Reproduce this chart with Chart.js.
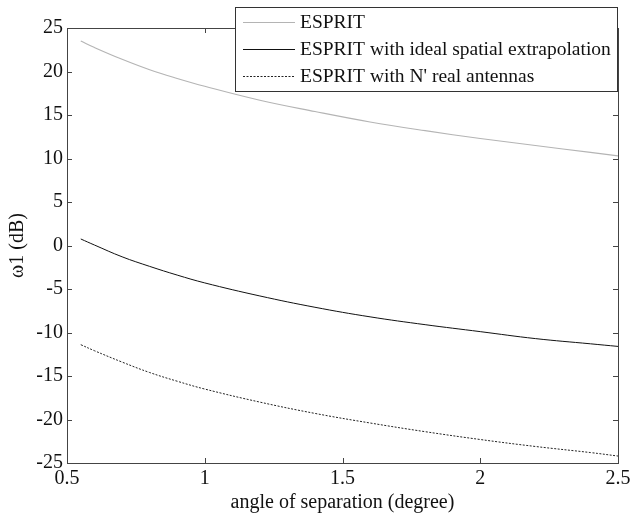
<!DOCTYPE html>
<html lang="en">
<head>
    <meta charset="UTF-8">
    <title>ESPRIT - angle of separation</title>
    <style>
        * { margin: 0; padding: 0; }
        body { background: #fff; }
        .container { position: relative; width: 640px; height: 517px; }
    </style>
</head>
<body>
    <div class="container">
        <canvas id="chart"></canvas>
    </div>
    <script src="https://cdn.jsdelivr.net/npm/chart.js@4/dist/chart.umd.min.js"></script>
    <script>
        // valores (angulo em graus, w1 em dB)
        var angles = [0.55, 0.6, 0.7, 0.8, 0.9, 1.0, 1.2, 1.4, 1.6, 1.8, 2.0, 2.2, 2.4, 2.5];
        var esprit = [23.5, 22.75, 21.4, 20.2, 19.2, 18.3, 16.7, 15.4, 14.2, 13.2, 12.3, 11.5, 10.7, 10.3];
        var espritIdeal = [0.75, 0.05, -1.3, -2.4, -3.4, -4.3, -5.8, -7.1, -8.2, -9.1, -9.9, -10.7, -11.3, -11.6];
        var espritReal = [-11.4, -12.1, -13.4, -14.6, -15.6, -16.5, -18.0, -19.3, -20.4, -21.4, -22.3, -23.1, -23.8, -24.2];

        var xTicks = [0.5, 1, 1.5, 2, 2.5];
        var yTicks = [-25, -20, -15, -10, -5, 0, 5, 10, 15, 20, 25];
        var labels = ['ESPRIT', 'ESPRIT with ideal spatial extrapolation', "ESPRIT with N' real antennas"];

        var serif = "'Liberation Serif', 'Times New Roman', serif";

        function pts(ys) {
            return angles.map(function (a, i) { return { x: a, y: ys[i] }; });
        }

        // caixa, ticks para dentro (estilo matlab) e legenda
        var boxPlugin = {
            id: 'boxPlugin',
            afterDraw: function (chart) {
                var ctx = chart.ctx;
                var a = chart.chartArea;
                var xs = chart.scales.x, ys = chart.scales.y;
                ctx.save();
                ctx.strokeStyle = '#444';
                ctx.lineWidth = 1;
                ctx.strokeRect(Math.round(a.left) + 0.5, Math.round(a.top) + 0.5,
                    Math.round(a.right - a.left), Math.round(a.bottom - a.top));
                ctx.beginPath();
                xTicks.forEach(function (v) {
                    var px = Math.round(xs.getPixelForValue(v)) + 0.5;
                    ctx.moveTo(px, a.bottom); ctx.lineTo(px, a.bottom - 5);
                    ctx.moveTo(px, a.top); ctx.lineTo(px, a.top + 5);
                });
                yTicks.forEach(function (v) {
                    var py = Math.round(ys.getPixelForValue(v)) + 0.5;
                    ctx.moveTo(a.left, py); ctx.lineTo(a.left + 5, py);
                    ctx.moveTo(a.right, py); ctx.lineTo(a.right - 5, py);
                });
                ctx.stroke();

                // legenda
                var lx = 235.5, ly = 7.5, lw = 382, lh = 84;
                ctx.fillStyle = '#fff';
                ctx.fillRect(lx, ly, lw, lh);
                ctx.strokeStyle = '#333';
                ctx.strokeRect(lx, ly, lw, lh);
                ctx.font = '19.5px ' + serif;
                ctx.textBaseline = 'middle';
                chart.data.datasets.forEach(function (ds, i) {
                    var y = 22 + i * 27;
                    ctx.beginPath();
                    ctx.strokeStyle = ds.borderColor;
                    ctx.lineWidth = ds.borderWidth;
                    ctx.setLineDash(ds.borderDash || []);
                    ctx.moveTo(243, y + 0.5);
                    ctx.lineTo(295, y + 0.5);
                    ctx.stroke();
                    ctx.setLineDash([]);
                    ctx.fillStyle = '#111';
                    ctx.fillText(ds.label, 300, y + 1);
                });
                ctx.restore();
            }
        };

        var ctx = document.getElementById('chart').getContext('2d');
        var myChart = new Chart(ctx, {
            type: 'line',
            data: {
                datasets: [{
                    label: labels[0],
                    data: pts(esprit),
                    borderColor: '#b4b4b4',
                    borderWidth: 1.1
                }, {
                    label: labels[1],
                    data: pts(espritIdeal),
                    borderColor: '#111',
                    borderWidth: 1
                }, {
                    label: labels[2],
                    data: pts(espritReal),
                    borderColor: '#222',
                    borderWidth: 1,
                    borderDash: [2, 1.5]
                }]
            },
            options: {
                responsive: true,
                maintainAspectRatio: false,
                animation: false,
                layout: { padding: { top: 28, right: 22, left: 0, bottom: 0 } },
                elements: {
                    point: { radius: 0 },
                    line: { tension: 0.4, fill: false }
                },
                scales: {
                    x: {
                        type: 'linear',
                        min: 0.5, max: 2.5,
                        afterBuildTicks: function (s) { s.ticks = xTicks.map(function (v) { return { value: v }; }); },
                        afterFit: function (s) { s.height = 54; },
                        grid: { display: false, drawTicks: false },
                        border: { display: false },
                        ticks: {
                            color: '#111', padding: 4, maxRotation: 0,
                            font: { family: serif, size: 20 },
                            callback: function (v) { return String(v); }
                        },
                        title: {
                            display: true, text: 'angle of separation (degree)', color: '#111',
                            font: { family: serif, size: 20 }, padding: { top: 0, bottom: 2 }
                        }
                    },
                    y: {
                        min: -25, max: 25,
                        afterBuildTicks: function (s) { s.ticks = yTicks.map(function (v) { return { value: v }; }); },
                        afterFit: function (s) { s.width = 67; },
                        grid: { display: false, drawTicks: false },
                        border: { display: false },
                        ticks: {
                            color: '#111', padding: 4,
                            font: { family: serif, size: 20 },
                            callback: function (v) { return String(v); }
                        },
                        title: {
                            display: true, text: 'ω1 (dB)', color: '#111',
                            font: { family: serif, size: 20 }, padding: { top: 6, bottom: 0 }
                        }
                    }
                },
                plugins: {
                    legend: { display: false },
                    tooltip: { enabled: false }
                }
            },
            plugins: [boxPlugin]
        });
    </script>
</body>
</html>
